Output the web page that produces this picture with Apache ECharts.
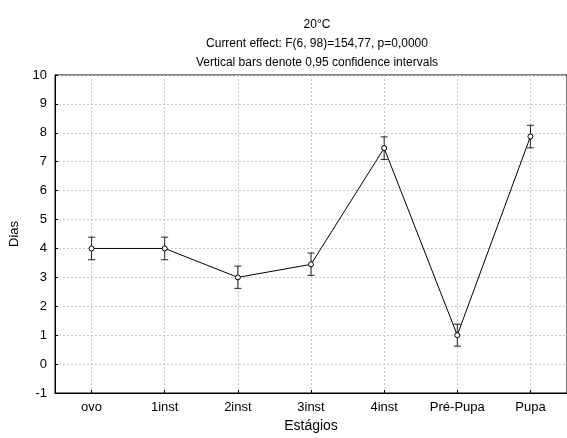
<!DOCTYPE html>
<html>
<head>
<meta charset="utf-8">
<script src="https://cdn.jsdelivr.net/npm/echarts@6/dist/echarts.min.js"></script>
<style>html,body{margin:0;padding:0;background:#fff}#c{width:567px;height:438px}</style>
</head>
<body>
<div id="c"></div>
<script>
var categories = ['ovo', '1inst', '2inst', '3inst', '4inst', 'Pré-Pupa', 'Pupa'];
var means = [4.0, 4.0, 3.0, 3.45, 7.47, 1.0, 7.87];
var lower = [3.61, 3.61, 2.62, 3.07, 7.08, 0.62, 7.48];
var upper = [4.39, 4.39, 3.39, 3.84, 7.86, 1.38, 8.26];
var yTicks = [-1, 0, 1, 2, 3, 4, 5, 6, 7, 8, 9, 10];

var font = 'Liberation Sans, Arial, sans-serif';
var idx = categories.map(function (c, i) { return i; });
var errData = categories.map(function (c, i) { return [i, lower[i], upper[i]]; });
var lineData = categories.map(function (c, i) { return [i, means[i]]; });

var chart = echarts.init(document.getElementById('c'), null, {renderer: 'canvas'});
chart.setOption({
  animation: false,
  backgroundColor: '#fff',
  title: {
    text: '20°C\nCurrent effect: F(6, 98)=154,77, p=0,0000\nVertical bars denote 0,95 confidence intervals',
    left: 312, textAlign: 'center', top: 10,
    textStyle: {fontFamily: font, fontSize: 12, fontWeight: 'normal', color: '#000', lineHeight: 19}
  },
  grid: {left: 53, top: 75, right: -5, bottom: 41, show: true, borderColor: '#000', borderWidth: 1, backgroundColor: 'transparent'},
  xAxis: {
    type: 'value', min: -0.5, max: categories.length - 0.5,
    name: 'Estágios', nameLocation: 'middle', nameGap: 26,
    nameTextStyle: {fontFamily: font, fontSize: 14, color: '#000'},
    axisLine: {onZero: false, lineStyle: {color: '#000', width: 1}},
    axisTick: {show: true, inside: true, length: 3, customValues: idx, lineStyle: {color: '#000'}},
    axisLabel: {fontFamily: font, fontSize: 13, color: '#000', margin: 8, customValues: idx,
      formatter: function (v) { return categories[Math.round(v)] || ''; }},
    splitLine: {show: true, customValues: idx, lineStyle: {color: '#c8c8c8', type: [2, 2], width: 1}}
  },
  yAxis: {
    type: 'value', min: yTicks[0], max: yTicks[yTicks.length - 1], interval: 1,
    name: 'Dias', nameLocation: 'middle', nameGap: 34,
    nameTextStyle: {fontFamily: font, fontSize: 13, color: '#000'},
    axisLine: {show: true, onZero: false, lineStyle: {color: '#000', width: 1}},
    axisTick: {show: true, inside: true, length: 3, lineStyle: {color: '#000'}},
    axisLabel: {fontFamily: font, fontSize: 13, color: '#000', margin: 8},
    splitLine: {show: true, lineStyle: {color: '#c8c8c8', type: [2, 2], width: 1}}
  },
  series: [
    {
      type: 'custom',
      data: errData,
      z: 3,
      renderItem: function (params, api) {
        var x = api.value(0);
        var lo = api.coord([x, api.value(1)]);
        var hi = api.coord([x, api.value(2)]);
        var w = 3.5;
        var st = {stroke: '#222', lineWidth: 1, fill: null};
        return {
          type: 'group',
          children: [
            {type: 'line', shape: {x1: lo[0], y1: lo[1], x2: hi[0], y2: hi[1]}, style: st},
            {type: 'line', shape: {x1: lo[0] - w, y1: lo[1], x2: lo[0] + w, y2: lo[1]}, style: st},
            {type: 'line', shape: {x1: hi[0] - w, y1: hi[1], x2: hi[0] + w, y2: hi[1]}, style: st}
          ]
        };
      }
    },
    {
      type: 'line',
      data: lineData,
      z: 4,
      symbol: 'circle', symbolSize: 5,
      itemStyle: {color: '#fff', borderColor: '#000', borderWidth: 1},
      lineStyle: {color: '#000', width: 1}
    }
  ]
});
</script>
</body>
</html>
